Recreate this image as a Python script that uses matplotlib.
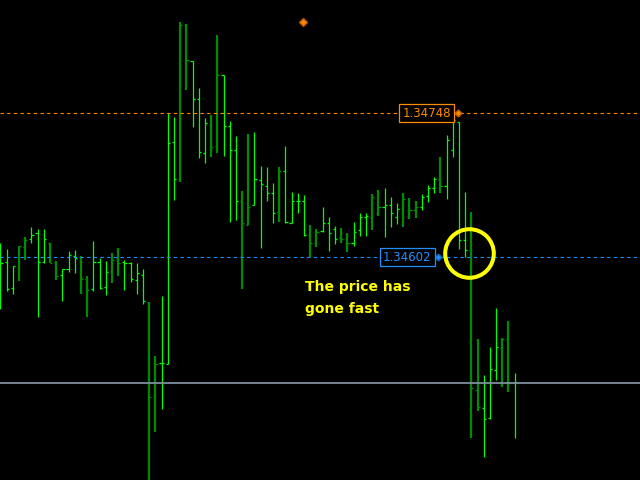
import matplotlib
matplotlib.use("Agg")
import matplotlib.pyplot as plt

# ---- OHLC data ----
highs = [1.34616, 1.34610, 1.34593, 1.34613, 1.34622, 1.34632, 1.34630, 1.34630, 1.34616, 1.34598,
         1.34590, 1.34608, 1.34609, 1.34603, 1.34583, 1.34618, 1.34601, 1.34598, 1.34606, 1.34611,
         1.34599, 1.34597, 1.34596, 1.34590, 1.34556, 1.34502, 1.34562, 1.34748, 1.34744, 1.34840,
         1.34838, 1.34801, 1.34773, 1.34743, 1.34746, 1.34827, 1.34787, 1.34740, 1.34725, 1.34669,
         1.34727, 1.34729, 1.34694, 1.34693, 1.34677, 1.34693, 1.34715, 1.34668, 1.34667, 1.34665,
         1.34634, 1.34630, 1.34653, 1.34643, 1.34633, 1.34631, 1.34626, 1.34637, 1.34647, 1.34647,
         1.34666, 1.34670, 1.34672, 1.34663, 1.34657, 1.34667, 1.34662, 1.34659, 1.34666, 1.34675,
         1.34683, 1.34703, 1.34726, 1.34748, 1.34739, 1.34668, 1.34648, 1.34519, 1.34482, 1.34511,
         1.34550, 1.34520, 1.34537, 1.34484]
lows = [1.34549, 1.34568, 1.34565, 1.34578, 1.34599, 1.34616, 1.34541, 1.34596, 1.34596, 1.34579,
        1.34557, 1.34587, 1.34586, 1.34564, 1.34541, 1.34568, 1.34570, 1.34563, 1.34576, 1.34583,
        1.34569, 1.34577, 1.34565, 1.34554, 1.34366, 1.34425, 1.34448, 1.34494, 1.34660, 1.34678,
        1.34771, 1.34734, 1.34702, 1.34697, 1.34703, 1.34707, 1.34704, 1.34638, 1.34640, 1.34570,
        1.34634, 1.34655, 1.34611, 1.34659, 1.34636, 1.34637, 1.34636, 1.34636, 1.34647, 1.34623,
        1.34602, 1.34612, 1.34627, 1.34608, 1.34615, 1.34616, 1.34607, 1.34613, 1.34623, 1.34623,
        1.34629, 1.34644, 1.34622, 1.34632, 1.34635, 1.34632, 1.34641, 1.34642, 1.34650, 1.34658,
        1.34667, 1.34667, 1.34661, 1.34703, 1.34610, 1.34602, 1.34418, 1.34446, 1.34399, 1.34438,
        1.34477, 1.34470, 1.34465, 1.34418]
opens = [1.34589, 1.34597, 1.34571, 1.34592, 1.34612, 1.34620, 1.34626, 1.34597, 1.34616, 1.34597,
         1.34584, 1.34590, 1.34603, 1.34602, 1.34580, 1.34570, 1.34597, 1.34572, 1.34588, 1.34600,
         1.34597, 1.34596, 1.34579, 1.34584, 1.34556, 1.34461, 1.34495, 1.34494, 1.34719, 1.34681,
         1.34837, 1.34801, 1.34762, 1.34707, 1.34736, 1.34715, 1.34787, 1.34735, 1.34711, 1.34659,
         1.34634, 1.34655, 1.34680, 1.34674, 1.34667, 1.34648, 1.34689, 1.34636, 1.34659, 1.34659,
         1.34624, 1.34616, 1.34628, 1.34636, 1.34630, 1.34621, 1.34616, 1.34616, 1.34629, 1.34643,
         1.34643, 1.34647, 1.34653, 1.34655, 1.34643, 1.34651, 1.34643, 1.34650, 1.34653, 1.34664,
         1.34672, 1.34681, 1.34674, 1.34710, 1.34739, 1.34619, 1.34609, 1.34467, 1.34449, 1.34439,
         1.34487, 1.34510, 1.34520, 1.34474]
closes = [1.34596, 1.34570, 1.34593, 1.34613, 1.34619, 1.34624, 1.34597, 1.34620, 1.34596, 1.34583,
          1.34590, 1.34604, 1.34601, 1.34580, 1.34569, 1.34597, 1.34571, 1.34587, 1.34599, 1.34596,
          1.34596, 1.34580, 1.34586, 1.34557, 1.34460, 1.34494, 1.34495, 1.34718, 1.34681, 1.34837,
          1.34802, 1.34762, 1.34708, 1.34738, 1.34714, 1.34787, 1.34735, 1.34711, 1.34659, 1.34636,
          1.34653, 1.34681, 1.34676, 1.34667, 1.34647, 1.34689, 1.34637, 1.34659, 1.34659, 1.34624,
          1.34616, 1.34627, 1.34636, 1.34626, 1.34620, 1.34620, 1.34616, 1.34627, 1.34643, 1.34644,
          1.34663, 1.34653, 1.34655, 1.34647, 1.34651, 1.34661, 1.34650, 1.34653, 1.34663, 1.34672,
          1.34681, 1.34674, 1.34721, 1.34741, 1.34619, 1.34609, 1.34469, 1.34450, 1.34438, 1.34488,
          1.34511, 1.34519, 1.34474, 1.34475]
# b = lime bar, d = dark green bar
bar_colours = ("bbbddbbbdd" "bbbddbbbdd" "bbbbddbbbd" "dbbbddbbbd" "dbbbbdbbbb"
               "ddbbbddbbb" "ddbbbdddbb" "bdbbbbddbb" "bddb")

# horizontal levels / annotations
high_level = 1.34748
low_level = 1.34602
grey_level = 1.34474
high_label = "1.34748"
low_label = "1.34602"
note_text = "The price has\ngone fast"

# ================================================================
fig = plt.figure(figsize=(6.4, 4.8), dpi=100, facecolor="black")
ax = fig.add_axes([0, 0, 1, 1], facecolor="black")

tick = 0.35
for i in range(len(highs)):
    if bar_colours[i] == "b":
        col, lw = "#00ff00", 0.9
    else:
        col, lw = "#008c00", 1.6
    ax.vlines(i, lows[i], highs[i], color=col, linewidth=lw)
    ax.hlines(opens[i], i - tick, i, color=col, linewidth=0.9)
    ax.hlines(closes[i], i, i + tick, color=col, linewidth=0.9)

# level lines
ax.axhline(high_level, color="#ff8c00", linewidth=0.8, linestyle=(0, (3, 3)))
ax.axhline(low_level, color="#1e90ff", linewidth=0.8, linestyle=(0, (3, 3)))
ax.axhline(grey_level, color="#7f8fa0", linewidth=1.3)

# price labels
ax.text(72.7, high_level, high_label, color="#ff8c00", fontsize=8.5,
        ha="right", va="center", family="DejaVu Sans",
        bbox=dict(boxstyle="square,pad=0.25", fc="black", ec="#ff8c00", lw=0.9))
ax.text(69.6, low_level, low_label, color="#1e90ff", fontsize=8.5,
        ha="right", va="center", family="DejaVu Sans",
        bbox=dict(boxstyle="square,pad=0.25", fc="black", ec="#1e90ff", lw=0.9))
ax.plot([73.9], [high_level], marker="D", ms=3.5, color="#ff8c00", mec="#c06000")
ax.plot([70.7], [low_level], marker="D", ms=3.5, color="#1e90ff", mec="#1060c0")
ax.plot([48.9], [1.34840], marker="D", ms=4, color="#ff8c00", mec="#c05000")

# highlight circle
ax.plot([75.6], [1.34606], marker="o", ms=35, mfc="none", mec="#ffff00", mew=2.9)

# note
ax.text(49.2, 1.34579, note_text, color="#ffff00", fontsize=10,
        fontweight="bold", ha="left", va="top", linespacing=1.75)

ax.set_xlim(-0.08, 103.23)
ax.set_ylim(1.343759, 1.348626)
ax.axis("off")

fig.savefig("out.png", dpi=100, facecolor="black")
